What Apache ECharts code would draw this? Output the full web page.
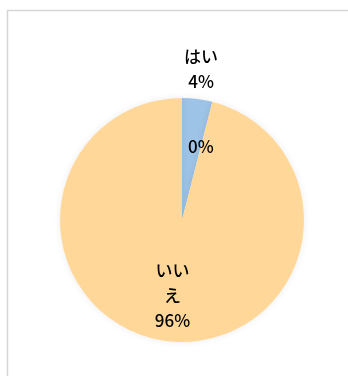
<!DOCTYPE html>
<html>
<head>
<meta charset="utf-8">
<script src="https://cdn.jsdelivr.net/npm/echarts@6/dist/echarts.min.js"></script>
<style>
  html, body { margin: 0; padding: 0; background: #fff; }
  #chart { width: 348px; height: 376px; }
</style>
</head>
<body>
<div id="chart"></div>
<script>
// Survey answers (percent of respondents)
const categories = ['はい', 'その他', 'いいえ'];
const values = [4, 0, 96];
const sliceColors = ['#9DC3E6', '#9DC3E6', '#FFD899'];

const center = [182, 220];
const radius = 122;
// label distance from centre, as a share of the radius
const labelRadiusRatio = [1.245, 0.623, 0.623];

const total = values.reduce((a, b) => a + b, 0);
function midAngle(i) {
  let before = 0;
  for (let k = 0; k < i; k++) before += values[k];
  return ((before + values[i] / 2) / total) * Math.PI * 2;
}

const chart = echarts.init(document.getElementById('chart'), null, { renderer: 'canvas' });

chart.setOption({
  animation: false,
  graphic: [{
    type: 'rect',
    shape: { x: 7.5, y: 10.5, width: 400, height: 400 },
    style: { fill: 'none', stroke: '#d6d6d6', lineWidth: 1.5 },
    silent: true
  }],
  series: [{
    type: 'pie',
    center: center,
    radius: radius,
    startAngle: 90,
    clockwise: true,
    avoidLabelOverlap: false,
    data: categories.map((name, i) => ({
      name: name,
      value: values[i],
      itemStyle: { color: sliceColors[i] }
    })),
    itemStyle: {
      shadowBlur: 7,
      shadowColor: 'rgba(0,0,0,0.08)'
    },
    label: {
      show: true,
      position: 'inside',
      color: '#000',
      fontSize: 17,
      fontWeight: 500,
      lineHeight: 25,
      fontFamily: "'Noto Sans CJK JP', sans-serif",
      width: 40,
      overflow: 'break',
      align: 'center',
      formatter: p => {
        const pct = Math.round(p.value / total * 100) + '%';
        return p.value > 0 ? p.name + '\n' + pct : pct;
      }
    },
    labelLine: { show: false },
    labelLayout: params => {
      const i = params.dataIndex;
      const a = midAngle(i);
      const d = radius * labelRadiusRatio[i];
      return {
        x: center[0] + d * Math.sin(a),
        y: center[1] - d * Math.cos(a),
        align: 'center',
        verticalAlign: 'middle'
      };
    },
    emphasis: { disabled: true }
  }]
});
</script>
</body>
</html>
